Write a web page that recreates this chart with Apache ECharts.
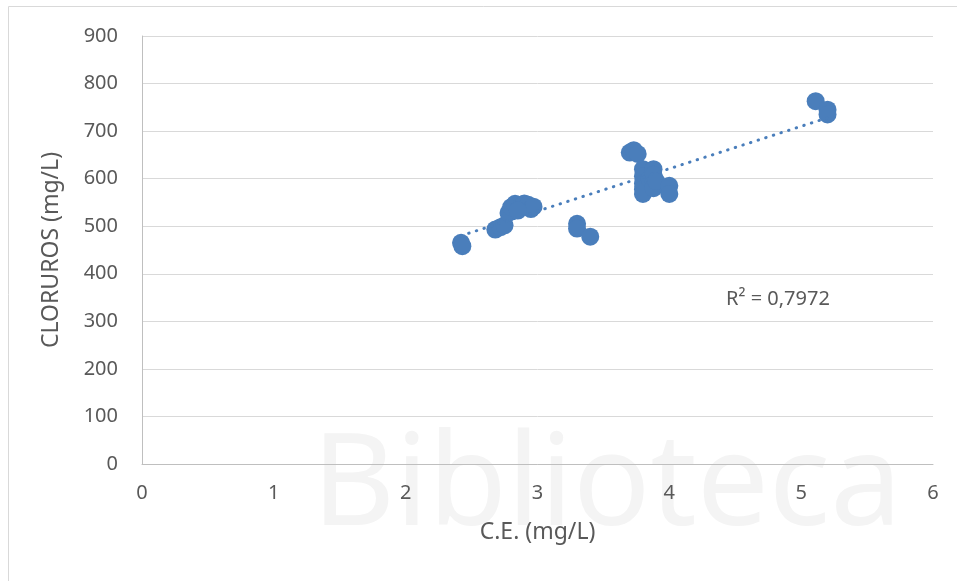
<!DOCTYPE html>
<html>
<head>
<meta charset="utf-8">
<script src="https://cdn.jsdelivr.net/npm/echarts@6/dist/echarts.min.js"></script>
<style>html,body{margin:0;padding:0;background:#fff;}#c{width:957px;height:581px;}</style>
</head>
<body>
<div id="c"></div>
<script>
var ceValues = [2.42, 2.43, 2.68, 2.72, 2.75, 2.78, 2.80, 2.83, 2.87, 2.90, 2.93, 2.95, 2.97, 2.85,
  3.30, 3.30, 3.40, 3.70, 3.73, 3.76,
  3.80, 3.80, 3.80, 3.80, 3.80, 3.85, 3.88, 3.88, 3.88, 3.88, 3.90, 4.00, 4.00,
  5.11, 5.20, 5.20];
var clorurosValues = [465, 458, 493, 498, 502, 528, 540, 547, 540, 548, 545, 536, 541, 533,
  505, 495, 478, 655, 660, 652,
  620, 605, 590, 578, 568, 600, 620, 608, 590, 580, 595, 585, 568,
  763, 745, 735];
var trendX = [2.42, 5.20];
var trendY = [480, 728];
var xTicks = [0, 1, 2, 3, 4, 5, 6];
var yTicks = [0, 100, 200, 300, 400, 500, 600, 700, 800, 900];
var r2Label = 'R² = 0,7972';

var points = ceValues.map(function (x, i) { return [x, clorurosValues[i]]; });
var trend = trendX.map(function (x, i) { return [x, trendY[i]]; });

var chart = echarts.init(document.getElementById('c'));
var font = 'Noto Sans';
chart.setOption({
  animation: false,
  textStyle: { fontFamily: font },
  graphic: [
    { type: 'rect', shape: { x: 8.5, y: 6.5, width: 1000, height: 700 },
      style: { fill: 'none', stroke: '#d9d9d9', lineWidth: 1 }, z: -10 },
    { type: 'text', left: 312, top: 425, z: -5,
      style: { text: 'Biblioteca', font: '128px "Noto Sans"', fill: '#f4f4f4' } },
    { type: 'text', x: 726, y: 299,
      style: { text: r2Label, font: '20px "Noto Sans"', fill: '#595959', textVerticalAlign: 'middle', verticalAlign: 'middle' } }
  ],
  grid: { left: 142, right: 24, top: 36, bottom: 117 },
  xAxis: {
    type: 'value', min: xTicks[0], max: xTicks[xTicks.length - 1], interval: 1,
    name: 'C.E. (mg/L)', nameLocation: 'middle', nameGap: 57,
    nameTextStyle: { fontSize: 23, color: '#595959', fontFamily: font },
    axisLine: { show: true, lineStyle: { color: '#bfbfbf', width: 1 } },
    axisTick: { show: false },
    splitLine: { show: false },
    axisLabel: { fontSize: 20, color: '#595959', margin: 19, fontFamily: font }
  },
  yAxis: {
    type: 'value', min: yTicks[0], max: yTicks[yTicks.length - 1], interval: 100,
    name: 'CLORUROS (mg/L)', nameLocation: 'middle', nameGap: 79,
    nameTextStyle: { fontSize: 23, color: '#595959', fontFamily: font },
    axisLine: { show: true, lineStyle: { color: '#bfbfbf', width: 1 } },
    axisTick: { show: false },
    splitLine: { show: true, lineStyle: { color: '#d9d9d9', width: 1 } },
    axisLabel: { fontSize: 20, color: '#595959', margin: 24, fontFamily: font }
  },
  series: [
    {
      type: 'scatter', data: points, symbolSize: 18,
      itemStyle: { color: '#4a7ebb', opacity: 1 }, z: 3
    },
    {
      type: 'line', data: trend, symbol: 'none', z: 4,
      lineStyle: { color: '#4a7ebb', width: 3, type: [0.5, 7.5], cap: 'round' }
    }
  ]
});
</script>
</body>
</html>
